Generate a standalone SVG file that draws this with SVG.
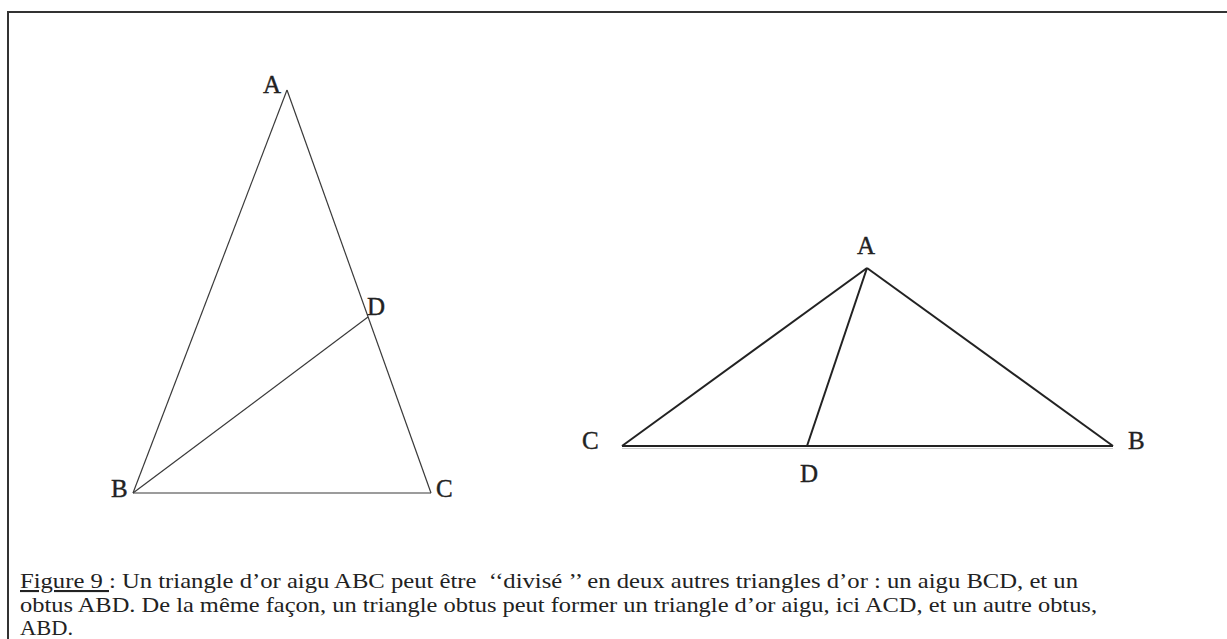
<svg xmlns="http://www.w3.org/2000/svg" width="1227" height="639" viewBox="0 0 1227 639">
<style>
.lbl{font-family:"Liberation Serif","Times New Roman",serif;font-size:25px;fill:#222;stroke:#222;stroke-width:0.4}
.cap{font-family:"Liberation Serif","Times New Roman",serif;font-size:21px;fill:#222;white-space:pre}
.thin{stroke:#3a3a3a;stroke-width:1.2;fill:none}
.thick{stroke:#222;stroke-width:2;fill:none}
</style>
<rect width="1227" height="639" fill="#fff"/>
<path d="M8 639 V12 H1227" fill="none" stroke="#333" stroke-width="2"/>
<g id="connectors">
<line class="thin" x1="287" y1="90" x2="133" y2="493"/>
<line class="thin" x1="287" y1="90" x2="431" y2="493"/>
<line class="thin" x1="133" y1="493" x2="431" y2="493" stroke-width="1.6"/>
<line class="thin" x1="133" y1="493" x2="368" y2="317"/>
<line class="thick" x1="867" y1="268" x2="622" y2="446"/>
<line class="thick" x1="867" y1="268" x2="1113" y2="446"/>
<line class="thick" x1="867" y1="268" x2="807" y2="446" stroke-width="1.8"/>
<line x1="622" y1="448.5" x2="1113" y2="448.5" stroke="#ccc" stroke-width="1"/>
<line class="thick" x1="622" y1="446" x2="1113" y2="446" stroke-width="2.4"/>
</g>
<g id="left-A"><text class="lbl" x="263" y="93">A</text></g>
<g id="left-D"><text class="lbl" x="367" y="315">D</text></g>
<g id="left-B"><text class="lbl" x="111" y="497">B</text></g>
<g id="left-C"><text class="lbl" x="436" y="497">C</text></g>
<g id="right-A"><text class="lbl" x="857" y="254">A</text></g>
<g id="right-C"><text class="lbl" x="582" y="449">C</text></g>
<g id="right-B"><text class="lbl" x="1128" y="449">B</text></g>
<g id="right-D"><text class="lbl" x="800" y="482">D</text></g>
<g id="caption">
<text class="cap" x="20" y="588" textLength="1058" lengthAdjust="spacingAndGlyphs"><tspan text-decoration="underline">Figure 9 </tspan>: Un triangle d’or aigu ABC peut être  ‘‘divisé ’’ en deux autres triangles d’or : un aigu BCD, et un</text>
<text class="cap" x="20" y="611.5" textLength="1077" lengthAdjust="spacingAndGlyphs">obtus ABD. De la même façon, un triangle obtus peut former un triangle d’or aigu, ici ACD, et un autre obtus,</text>
<text class="cap" x="20" y="635" textLength="53" lengthAdjust="spacingAndGlyphs">ABD.</text>
</g>
</svg>
